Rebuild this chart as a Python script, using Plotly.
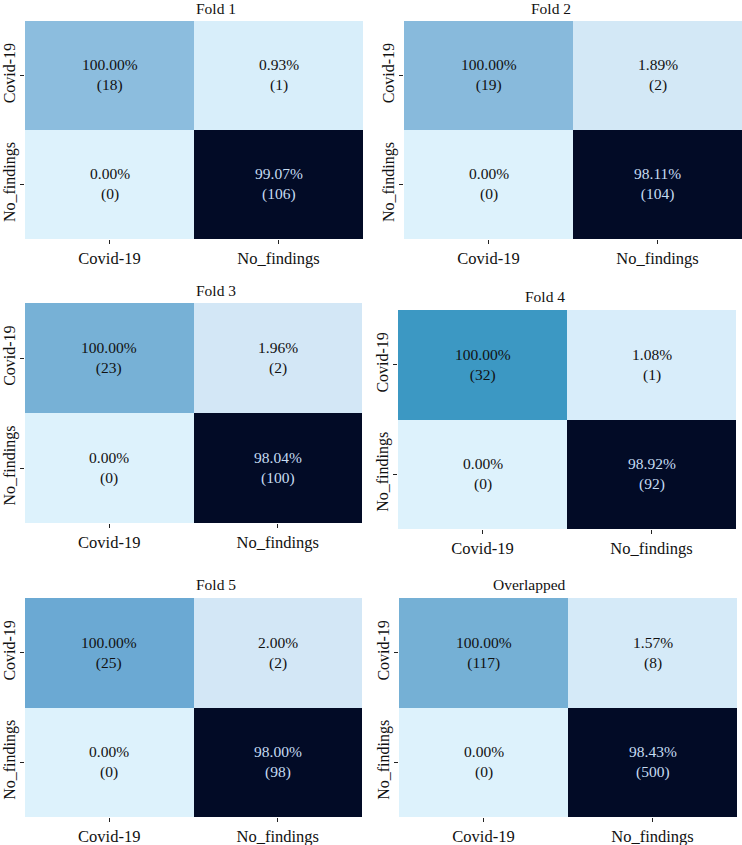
import plotly.graph_objects as go

titles = ["Fold 1", "Fold 2", "Fold 3", "Fold 4", "Fold 5", "Overlapped"]
labels = ["Covid-19", "No_findings"]
# confusion counts [[row Covid-19], [row No_findings]] ; columns Covid-19, No_findings
fold1 = [[18, 1], [0, 106]]
fold2 = [[19, 2], [0, 104]]
fold3 = [[23, 2], [0, 100]]
fold4 = [[32, 1], [0, 92]]
fold5 = [[25, 2], [0, 98]]
overlapped = [[117, 8], [0, 500]]
matrices = [fold1, fold2, fold3, fold4, fold5, overlapped]

W, H = 742, 845
# pixel boxes (left, right, top, bottom) of each heatmap
boxes = [(25, 363, 21, 239), (404, 742, 21, 239),
         (25, 362, 303, 523), (398, 736, 310, 529),
         (25, 362, 598, 817), (399, 737, 598, 817)]
title_y = [9, 9, 290, 296, 584, 584]

cscale = [[0.0, '#ddf2fc'], [0.01, '#d8eefa'], [0.02, '#d3e7f6'],
          [0.17, '#8cbdde'], [0.23, '#77b1d6'], [0.26, '#69a8d2'],
          [0.35, '#3b98c3'], [0.55, '#16598c'], [0.8, '#062453'],
          [1.0, '#020b26']]

fig = go.Figure()
font_family = "Liberation Serif"
for i, (m, t, box, ty) in enumerate(zip(matrices, titles, boxes, title_y)):
    k = "" if i == 0 else str(i + 1)
    zmax = max(max(r) for r in m)
    colsum = [m[0][j] + m[1][j] for j in range(2)]
    fig.add_trace(go.Heatmap(
        z=m, x=labels, y=labels, colorscale=cscale, zmin=0, zmax=zmax,
        showscale=False, hoverinfo="skip",
        xaxis="x" + k, yaxis="y" + k))
    l, r, top, bot = box
    fig.layout["xaxis" + k] = dict(
        domain=[l / W, r / W], anchor="y" + k, type="category",
        showgrid=False, zeroline=False, showline=False, automargin=False,
        ticks="outside", ticklen=4, tickcolor="#222", tickwidth=1,
        tickfont=dict(family=font_family, size=16.5, color="#111"))
    fig.layout["yaxis" + k] = dict(
        domain=[1 - bot / H, 1 - top / H], anchor="x" + k, type="category",
        autorange="reversed", showgrid=False, zeroline=False, showline=False,
        automargin=False, ticklabelstandoff=-1,
        ticks="outside", ticklen=4, tickcolor="#222", tickwidth=1,
        tickangle=-90,
        tickfont=dict(family=font_family, size=16, color="#111"))
    for ri in range(2):
        for ci in range(2):
            v = m[ri][ci]
            pct = 100.0 * v / colsum[ci] if colsum[ci] else 0.0
            dark = v / zmax > 0.6
            fig.add_annotation(
                x=labels[ci], y=labels[ri], xref="x" + k, yref="y" + k,
                text=f"{pct:.2f}%<br>({v})", showarrow=False,
                font=dict(family=font_family, size=15.5,
                          color="#c6dcf2" if dark else "#111"))
    fig.add_annotation(
        x=(l + r) / 2 / W, y=1 - ty / H, xref="paper", yref="paper",
        text=t, showarrow=False, yanchor="middle",
        font=dict(family=font_family, size=15.5, color="#111"))

fig.update_layout(width=W, height=H, margin=dict(l=0, r=0, t=0, b=0),
                  paper_bgcolor="white", plot_bgcolor="white",
                  showlegend=False)
fig.write_html("out.html", config={"displayModeBar": False},
               post_script="document.body.style.margin='0';"
                           "document.body.style.overflow='hidden';")
